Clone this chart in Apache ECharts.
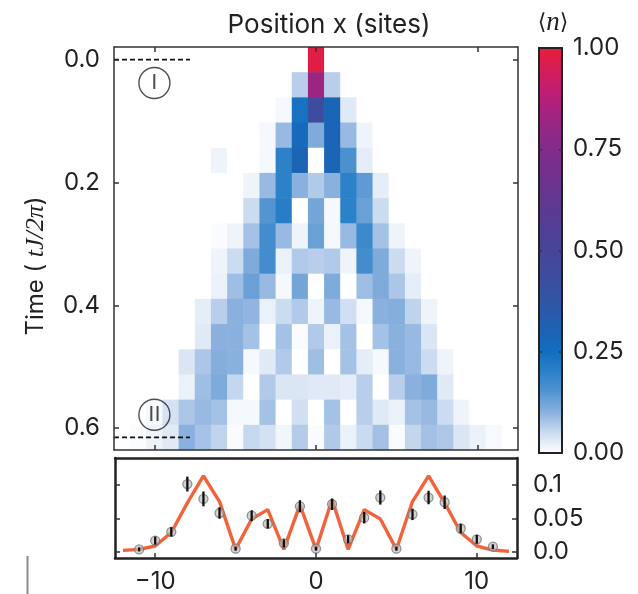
<!DOCTYPE html>
<html>
<head>
<meta charset="utf-8">
<script src="https://cdn.jsdelivr.net/npm/echarts@6/dist/echarts.min.js"></script>
<style>
  html, body { margin: 0; padding: 0; background: #ffffff; }
  #chart { width: 638px; height: 594px; }
</style>
</head>
<body>
<div id="chart"></div>
<script>
// Lattice sites (columns of the density map)
const sites = [-12, -11, -10, -9, -8, -7, -6, -5, -4, -3, -2, -1, 0, 1, 2, 3, 4, 5, 6, 7, 8, 9, 10, 11, 12];
// Evolution times in units of tJ/2π (rows of the density map)
const times = [0.000, 0.041, 0.082, 0.123, 0.164, 0.205, 0.246, 0.287, 0.328, 0.369, 0.410, 0.451, 0.492, 0.533, 0.574, 0.615];
const rowStep = 0.041;

// Site occupation <n>, one row per time, columns follow `sites`
const density = [
  [0,0,0,0,0,0,0,0,0,0,0,0,0.98,0,0,0,0,0,0,0,0,0,0,0,0],
  [0,0,0,0,0,0,0,0,0,0,0,0.065,0.82,0.065,0,0,0,0,0,0,0,0,0,0,0],
  [0,0,0,0,0,0,0,0,0,0,0.01,0.24,0.44,0.29,0.03,0,0,0,0,0,0,0,0,0,0],
  [0,0,0,0,0,0,0,0,0,0.01,0.09,0.27,0.11,0.29,0.09,0.015,0,0,0,0,0,0,0,0,0],
  [0,0,0,0,0,0,0.015,0,0,0.01,0.2,0.3,0,0.29,0.16,0.025,0,0,0,0,0,0,0,0,0],
  [0,0,0,0,0,0,0,0,0.015,0.09,0.2,0.1,0.07,0.1,0.2,0.14,0.025,0,0,0,0,0,0,0,0],
  [0,0,0,0,0,0,0,0,0.05,0.15,0.21,0,0.12,0.01,0.2,0.13,0.05,0,0,0,0,0,0,0,0],
  [0,0,0,0,0,0,0.005,0.015,0.08,0.17,0.09,0.015,0.13,0.01,0.09,0.18,0.08,0.015,0,0,0,0,0,0,0],
  [0,0,0,0,0,0,0.015,0.05,0.11,0.17,0.02,0.07,0.065,0.07,0.015,0.17,0.11,0.05,0.015,0,0,0,0,0,0],
  [0,0,0,0,0,0,0.02,0.085,0.13,0.09,0.01,0.12,0,0.11,0,0.085,0.11,0.075,0.025,0,0,0,0,0,0],
  [0,0,0,0,0,0.025,0.065,0.1,0.095,0.02,0.05,0.07,0.015,0.09,0.045,0.01,0.1,0.105,0.06,0.015,0,0,0,0,0],
  [0,0,0,0,0,0.03,0.1,0.1,0.08,0,0.08,0.005,0.07,0.02,0.08,0,0.08,0.1,0.09,0.035,0,0,0,0,0],
  [0,0,0,0,0.035,0.075,0.105,0.1,0.01,0.03,0.07,0,0.085,0,0.08,0.025,0.01,0.1,0.09,0.05,0.015,0,0,0,0],
  [0,0,0,0,0.02,0.085,0.11,0.055,0,0.07,0.035,0.035,0.03,0.03,0.025,0.065,0,0.065,0.1,0.11,0.03,0,0,0,0],
  [0,0,0.01,0.04,0.075,0.09,0.08,0.01,0.01,0.08,0,0.045,0,0.08,0,0.065,0.03,0.02,0.08,0.09,0.05,0.015,0,0,0],
  [0,0.004,0.017,0.03,0.101,0.079,0.058,0.005,0.054,0.042,0.013,0.068,0.005,0.071,0.019,0.051,0.081,0.005,0.056,0.081,0.074,0.035,0.019,0.008,0]
];

// Cut through the final time: measured occupation with error bars
const cutSites = [-11, -10, -9, -8, -7, -6, -5, -4, -3, -2, -1, 0, 1, 2, 3, 4, 5, 6, 7, 8, 9, 10, 11];
const cutMeasured = [0.004, 0.017, 0.030, 0.101, 0.079, 0.058, 0.005, 0.054, 0.042, 0.013, 0.068, 0.005, 0.071, 0.019, 0.051, 0.081, 0.005, 0.056, 0.081, 0.074, 0.035, 0.019, 0.008];
const cutError = [0.003, 0.006, 0.007, 0.011, 0.011, 0.0085, 0.003, 0.008, 0.007, 0.006, 0.009, 0.003, 0.0085, 0.006, 0.0085, 0.0105, 0.003, 0.0085, 0.010, 0.010, 0.007, 0.0065, 0.0035];
// Theory curve at every site
const cutTheory = [0.0025, 0.004, 0.009, 0.029, 0.073, 0.113, 0.075, 0.004, 0.049, 0.063, 0.004, 0.070, 0.004, 0.078, 0.004, 0.063, 0.049, 0.004, 0.075, 0.113, 0.073, 0.029, 0.009, 0.003, 0.001];

// Tick positions
const siteTicks = [-10, 0, 10];
const timeTicks = [0, 0.2, 0.4, 0.6];
const cutTicks = [0, 0.05, 0.1];
const barTicks = [0, 0.25, 0.5, 0.75, 1];
const barInnerTicks = [0.25, 0.5, 0.75];

// Times marked by the dashed lines (I) and (II)
const markedTimes = [times[0], times[times.length - 1]];
const markedLabels = ['I', 'II'];

// Colour ramp, evenly spaced from 0 to 1
const rampColors = ['#ffffff', '#cbdbf0', '#8ab1de', '#5394d1', '#2c82c9', '#126ebf', '#1d63b4', '#2a5aa9',
  '#3552a2', '#3f4b9c', '#474597', '#513f94', '#5c3a91', '#68358e', '#752f8c', '#822c8a',
  '#932786', '#aa2280', '#c21d70', '#d71c56', '#e91e3a'];

const FONT = 'Inter, "Liberation Sans", Arial, sans-serif';
const INK = '#222222';
const FRAME = '#333333';

const cells = [];
times.forEach((t, i) => {
  sites.forEach((x, j) => { cells.push([x, t, density[i][j]]); });
});

const minus = v => (v < 0 ? '\u2212' + Math.abs(v) : String(v));

function frameAxis(extra) {
  return Object.assign({
    type: 'value',
    z: 10,
    splitLine: { show: false },
    axisLine: { show: true, onZero: false, lineStyle: { color: FRAME, width: 1.5 } },
    axisTick: { show: false },
    axisLabel: { show: false }
  }, extra);
}
function insideTicks(values, len) {
  return { show: true, inside: true, length: len || 5, customValues: values, lineStyle: { color: FRAME, width: 1.5 } };
}

const option = {
  animation: false,
  backgroundColor: '#ffffff',
  grid: [
    { left: 114, top: 47, width: 404, height: 403 },
    { left: 115, top: 458, width: 402, height: 101 },
    { left: 539, top: 48, width: 23, height: 405 }
  ],
  visualMap: {
    type: 'continuous',
    seriesIndex: 0,
    dimension: 2,
    min: 0,
    max: 1,
    inRange: { color: rampColors },
    calculable: false,
    hoverLink: false,
    orient: 'vertical',
    left: 539,
    top: 48,
    padding: 0,
    itemWidth: 23,
    itemHeight: 405,
    z: 2
  },
  xAxis: [
    frameAxis({ gridIndex: 0, position: 'bottom', min: -12.5, max: 12.5, axisTick: insideTicks(siteTicks) }),
    frameAxis({ gridIndex: 0, position: 'top', min: -12.5, max: 12.5, axisTick: insideTicks(siteTicks) }),
    frameAxis({
      gridIndex: 1, position: 'bottom', min: -12.5, max: 12.5,
      axisLine: { show: true, onZero: false, lineStyle: { color: INK, width: 2.5 } },
      axisTick: insideTicks(siteTicks),
      axisLabel: { show: true, customValues: siteTicks, formatter: minus, fontFamily: FONT, fontSize: 24, color: INK, margin: 12 }
    }),
    frameAxis({ gridIndex: 1, position: 'top', min: -12.5, max: 12.5,
      axisLine: { show: true, onZero: false, lineStyle: { color: INK, width: 2.5 } } }),
    frameAxis({ gridIndex: 2, position: 'bottom', min: 0, max: 1,
      axisLine: { show: true, onZero: false, lineStyle: { color: INK, width: 2 } } }),
    frameAxis({ gridIndex: 2, position: 'top', min: 0, max: 1,
      axisLine: { show: true, onZero: false, lineStyle: { color: INK, width: 2 } } })
  ],
  yAxis: [
    frameAxis({
      gridIndex: 0, position: 'left', inverse: true,
      min: times[0] - rowStep / 2, max: times[times.length - 1] + rowStep / 2,
      axisTick: insideTicks(timeTicks),
      axisLabel: { show: true, customValues: timeTicks, formatter: v => v.toFixed(1), fontFamily: FONT, fontSize: 24, color: INK, margin: 14 }
    }),
    frameAxis({
      gridIndex: 0, position: 'right', inverse: true,
      min: times[0] - rowStep / 2, max: times[times.length - 1] + rowStep / 2,
      axisTick: insideTicks(timeTicks)
    }),
    frameAxis({
      gridIndex: 1, position: 'left', min: -0.0088, max: 0.1397,
      axisLine: { show: true, onZero: false, lineStyle: { color: INK, width: 2.5 } },
      axisTick: insideTicks(cutTicks)
    }),
    frameAxis({
      gridIndex: 1, position: 'right', min: -0.0088, max: 0.1397,
      axisLine: { show: true, onZero: false, lineStyle: { color: INK, width: 2.5 } },
      axisTick: insideTicks(cutTicks),
      axisLabel: { show: true, customValues: cutTicks, formatter: v => (v === 0 ? '0.0' : String(+v.toFixed(2))), fontFamily: FONT, fontSize: 24, color: INK, margin: 16 }
    }),
    frameAxis({
      gridIndex: 2, position: 'left', min: 0, max: 1,
      axisLine: { show: true, onZero: false, lineStyle: { color: INK, width: 2 } },
      axisTick: insideTicks(barInnerTicks, 3)
    }),
    frameAxis({
      gridIndex: 2, position: 'right', min: 0, max: 1,
      axisLine: { show: true, onZero: false, lineStyle: { color: INK, width: 2 } },
      axisTick: insideTicks(barInnerTicks, 3),
      axisLabel: { show: true, customValues: barTicks, formatter: v => v.toFixed(2), fontFamily: FONT, fontSize: 24, color: INK, margin: 11 }
    })
  ],
  series: [
    {
      // density map drawn as cells on the site/time value axes
      type: 'custom',
      xAxisIndex: 0,
      yAxisIndex: 0,
      data: cells,
      encode: { x: 0, y: 1 },
      clip: true,
      z: 1,
      silent: true,
      renderItem: function (params, api) {
        const x = api.value(0), t = api.value(1);
        const p0 = api.coord([x - 0.5, t - rowStep / 2]);
        const p1 = api.coord([x + 0.5, t + rowStep / 2]);
        return {
          type: 'rect',
          shape: {
            x: Math.min(p0[0], p1[0]), y: Math.min(p0[1], p1[1]),
            width: Math.abs(p1[0] - p0[0]) + 0.6, height: Math.abs(p1[1] - p0[1]) + 0.6
          },
          style: { fill: api.visual('color') }
        };
      }
    },
    ...markedTimes.map(t => ({
      type: 'line',
      xAxisIndex: 0,
      yAxisIndex: 0,
      data: [[-12.5, t], [-7.8, t]],
      symbol: 'none',
      clip: false,
      silent: true,
      z: 6,
      lineStyle: { color: '#111111', width: 1.6, type: [5, 3] }
    })),
    {
      type: 'scatter',
      xAxisIndex: 0,
      yAxisIndex: 0,
      data: [
        { name: markedLabels[0], value: [-10, 0.038] },
        { name: markedLabels[1], value: [-10, 0.578] }
      ],
      symbol: 'circle',
      symbolSize: 31,
      silent: true,
      z: 6,
      itemStyle: { color: 'rgba(255,255,255,0)', borderColor: INK, borderWidth: 1.4 },
      label: { show: true, position: 'inside', formatter: '{b}', fontFamily: '"Liberation Sans", Arial, sans-serif', fontSize: 22, color: INK }
    },
    {
      type: 'line',
      xAxisIndex: 2,
      yAxisIndex: 2,
      data: sites.map((x, i) => [x, cutTheory[i]]),
      symbol: 'none',
      silent: true,
      z: 2,
      lineStyle: { color: '#f2623b', width: 3.4 }
    },
    {
      type: 'scatter',
      xAxisIndex: 2,
      yAxisIndex: 2,
      data: cutSites.map((x, i) => [x, cutMeasured[i]]),
      symbol: 'circle',
      symbolSize: 9,
      silent: true,
      z: 3,
      itemStyle: { color: 'rgba(185,185,185,0.8)', borderColor: '#7a7a7a', borderWidth: 1.3 }
    },
    {
      // error bars
      type: 'custom',
      xAxisIndex: 2,
      yAxisIndex: 2,
      data: cutSites.map((x, i) => [x, cutMeasured[i], cutError[i]]),
      encode: { x: 0, y: 1 },
      silent: true,
      z: 4,
      renderItem: function (params, api) {
        const x = api.value(0), v = api.value(1), e = api.value(2);
        const lo = api.coord([x, v - e]);
        const hi = api.coord([x, v + e]);
        return {
          type: 'line',
          shape: { x1: lo[0], y1: lo[1], x2: hi[0], y2: hi[1] },
          style: { stroke: '#111111', lineWidth: 2.3 }
        };
      }
    }
  ],
  graphic: [
    {
      type: 'text',
      x: 329, y: 25,
      silent: true,
      style: { text: 'Position x (sites)', fontFamily: FONT, fontSize: 26, fill: INK, align: 'center', verticalAlign: 'middle' }
    },
    {
      type: 'text',
      x: 553, y: 23,
      silent: true,
      style: {
        text: '{br|\u27E8}{n|n}{br|\u27E9}',
        align: 'center', verticalAlign: 'middle',
        rich: {
          br: { fontFamily: '"DejaVu Serif", serif', fontSize: 22, fill: INK },
          n: { fontFamily: '"Liberation Serif", serif', fontStyle: 'italic', fontSize: 27, fill: INK }
        }
      }
    },
    {
      type: 'text',
      x: 36, y: 266,
      rotation: Math.PI / 2,
      silent: true,
      style: {
        text: '{a|Time (}{m| tJ/2\u03C0}{a|)}',
        align: 'center', verticalAlign: 'middle',
        rich: {
          a: { fontFamily: FONT, fontSize: 24, fill: INK },
          m: { fontFamily: '"Liberation Serif", serif', fontStyle: 'italic', fontSize: 26, fill: INK }
        }
      }
    },
    {
      type: 'line',
      silent: true,
      shape: { x1: 27.5, y1: 556, x2: 27.5, y2: 594 },
      style: { stroke: '#8a8a8a', lineWidth: 2 }
    }
  ]
};

const chart = echarts.init(document.getElementById('chart'), null, { renderer: 'canvas' });
chart.setOption(option);
</script>
</body>
</html>
